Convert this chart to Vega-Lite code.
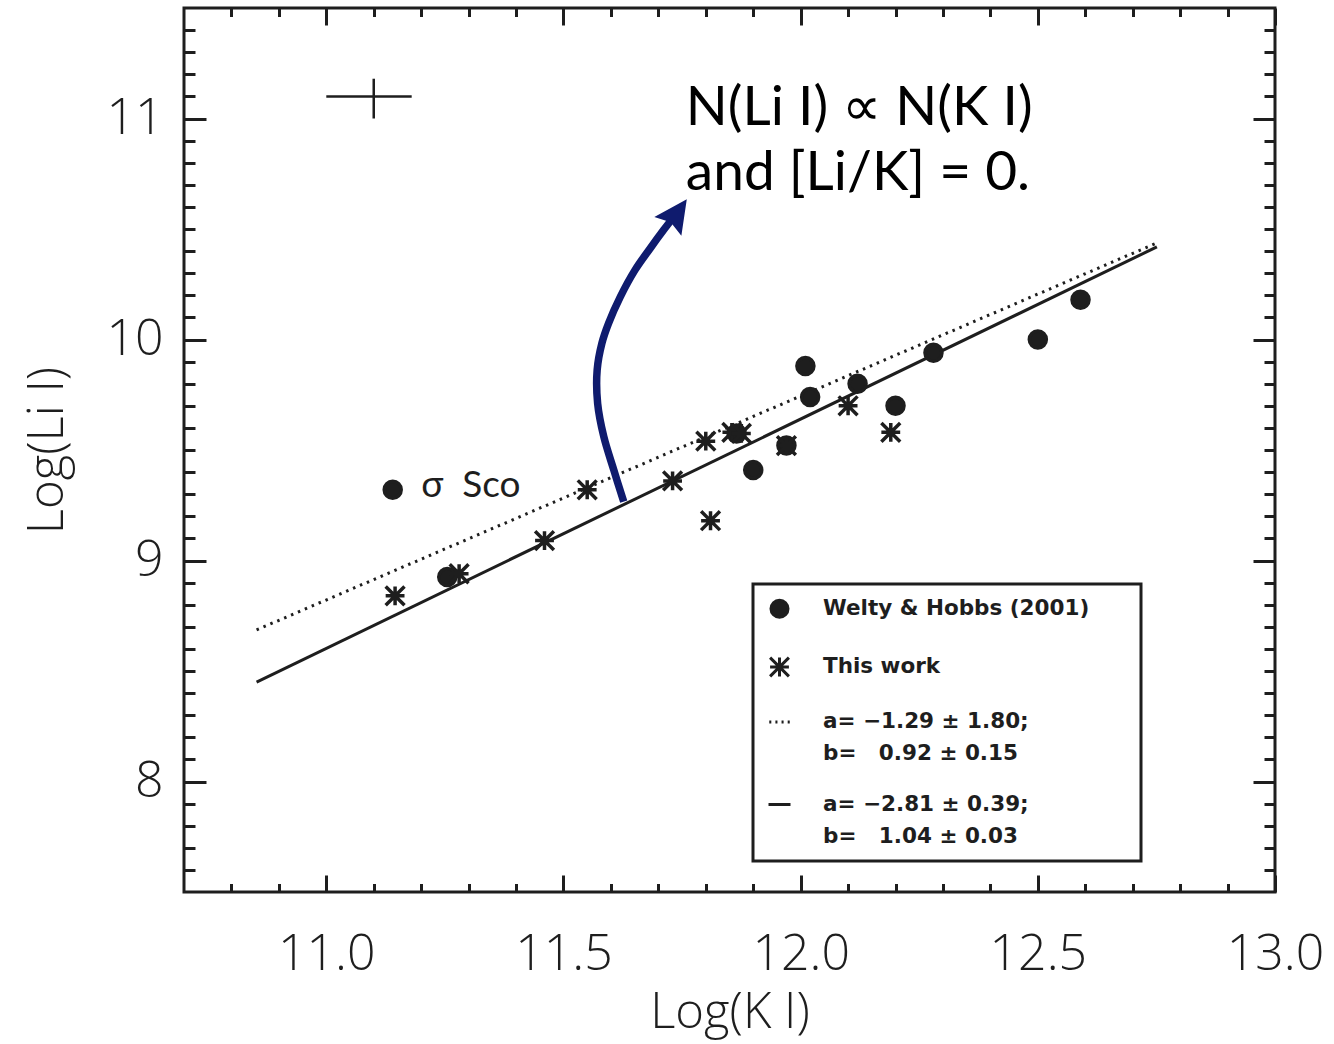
{
  "$schema": "https://vega.github.io/schema/vega-lite/v6.json",
  "width": 1091,
  "height": 884,
  "autosize": {"type": "none"},
  "padding": {"left": 184, "top": 8, "right": 59, "bottom": 152},
  "background": "#ffffff",
  "config": {
    "view": {"stroke": "#1e1e1e", "strokeWidth": 3},
    "axis": {
      "grid": false,
      "domain": false,
      "tickColor": "#1e1e1e",
      "tickWidth": 3,
      "labelFont": "Open Sans",
      "labelFontWeight": 300,
      "labelFontSize": 50,
      "labelColor": "#1e1e1e",
      "titleFont": "Open Sans",
      "titleFontWeight": 300,
      "titleFontSize": 49,
      "titleColor": "#1e1e1e",
      "labelFlush": false,
      "labelOverlap": false
    },
    "legend": {"strokeWidth": 3},
    "style": {"guide-label": {"lineHeight": 32}}
  },
  "datasets": {
    "points": [
      {"series": "Welty & Hobbs (2001)", "x": 11.14, "y": 9.32},
      {"series": "Welty & Hobbs (2001)", "x": 11.255, "y": 8.925},
      {"series": "Welty & Hobbs (2001)", "x": 11.865, "y": 9.575},
      {"series": "Welty & Hobbs (2001)", "x": 11.90, "y": 9.41},
      {"series": "Welty & Hobbs (2001)", "x": 11.97, "y": 9.52},
      {"series": "Welty & Hobbs (2001)", "x": 12.01, "y": 9.88},
      {"series": "Welty & Hobbs (2001)", "x": 12.02, "y": 9.74},
      {"series": "Welty & Hobbs (2001)", "x": 12.12, "y": 9.80},
      {"series": "Welty & Hobbs (2001)", "x": 12.20, "y": 9.70},
      {"series": "Welty & Hobbs (2001)", "x": 12.28, "y": 9.94},
      {"series": "Welty & Hobbs (2001)", "x": 12.50, "y": 10.00},
      {"series": "Welty & Hobbs (2001)", "x": 12.59, "y": 10.18},
      {"series": "This work", "x": 11.145, "y": 8.84},
      {"series": "This work", "x": 11.28, "y": 8.94},
      {"series": "This work", "x": 11.46, "y": 9.09},
      {"series": "This work", "x": 11.55, "y": 9.32},
      {"series": "This work", "x": 11.73, "y": 9.36},
      {"series": "This work", "x": 11.80, "y": 9.54},
      {"series": "This work", "x": 11.81, "y": 9.18},
      {"series": "This work", "x": 11.855, "y": 9.58},
      {"series": "This work", "x": 11.875, "y": 9.575},
      {"series": "This work", "x": 11.97, "y": 9.52},
      {"series": "This work", "x": 12.10, "y": 9.70},
      {"series": "This work", "x": 12.19, "y": 9.58}
    ],
    "solid": [
      {"x": 10.853, "y": 8.45},
      {"x": 12.751, "y": 10.419}
    ],
    "dotted": [
      {"x": 10.853, "y": 8.686},
      {"x": 12.751, "y": 10.437}
    ],
    "cross": [
      {"x": 11.10, "y": 11.10, "xlo": 11.0, "xhi": 11.18, "ylo": 11.0, "yhi": 11.18}
    ],
    "arrow": [
      {"i": 1, "x": 11.627, "y": 9.266},
      {"i": 2, "x": 11.606, "y": 9.410},
      {"i": 3, "x": 11.585, "y": 9.560},
      {"i": 4, "x": 11.572, "y": 9.711},
      {"i": 5, "x": 11.571, "y": 9.862},
      {"i": 6, "x": 11.581, "y": 9.983},
      {"i": 7, "x": 11.595, "y": 10.073},
      {"i": 8, "x": 11.620, "y": 10.194},
      {"i": 9, "x": 11.651, "y": 10.315},
      {"i": 10, "x": 11.683, "y": 10.413},
      {"i": 11, "x": 11.711, "y": 10.495},
      {"i": 12, "x": 11.729, "y": 10.545}
    ],
    "head": [
      {"x": 11.740, "y": 10.573}
    ],
    "note": [
      {"x": 11.758, "y": 10.971, "label": "N(Li I) ∝ N(K I)\nand [Li/K] = 0."}
    ],
    "sco": [
      {"x": 11.200, "y": 9.287, "label": "σ\u00a0\u00a0Sco"}
    ]
  },
  "layer": [
    {
      "data": {"name": "solid"},
      "mark": {"type": "line", "color": "#1e1e1e", "strokeWidth": 3},
      "encoding": {
        "x": {
          "field": "x", "type": "quantitative",
          "scale": {"domain": [10.7, 13.0], "nice": false, "zero": false},
          "axis": {
            "orient": "bottom",
            "values": [11.0, 11.5, 12.0, 12.5, 13.0],
            "format": ".1f",
            "tickSize": -17,
            "labelPadding": 54,
            "title": "Log(K I)",
            "titlePadding": 9
          }
        },
        "y": {
          "field": "y", "type": "quantitative",
          "scale": {"domain": [7.5, 11.5], "nice": false, "zero": false},
          "axis": {
            "orient": "left",
            "values": [8, 9, 10, 11],
            "format": "d",
            "tickSize": -22,
            "labelPadding": 43,
            "title": "Log(Li I)",
            "titlePadding": 33
          }
        }
      }
    },
    {
      "data": {"name": "dotted"},
      "mark": {"type": "line", "color": "#1e1e1e", "strokeWidth": 3, "strokeDash": [2.5, 5]},
      "encoding": {
        "x": {
          "field": "x", "type": "quantitative",
          "scale": {"domain": [10.7, 13.0], "nice": false, "zero": false},
          "axis": {
            "orient": "bottom",
            "values": [10.8, 10.9, 11.1, 11.2, 11.3, 11.4, 11.6, 11.7, 11.8, 11.9, 12.1, 12.2, 12.3, 12.4, 12.6, 12.7, 12.8, 12.9],
            "tickSize": -8.5,
            "labels": false,
            "title": null
          }
        },
        "y": {
          "field": "y", "type": "quantitative",
          "scale": {"domain": [7.5, 11.5], "nice": false, "zero": false},
          "axis": {
            "orient": "left",
            "values": [7.6, 7.7, 7.8, 7.9, 8.1, 8.2, 8.3, 8.4, 8.5, 8.6, 8.7, 8.8, 8.9, 9.1, 9.2, 9.3, 9.4, 9.5, 9.6, 9.7, 9.8, 9.9, 10.1, 10.2, 10.3, 10.4, 10.5, 10.6, 10.7, 10.8, 10.9, 11.1, 11.2, 11.3, 11.4],
            "tickSize": -11,
            "labels": false,
            "title": null
          }
        }
      }
    },
    {
      "data": {"name": "points"},
      "mark": {"type": "point", "filled": false, "fill": "#1e1e1e", "stroke": "#1e1e1e", "strokeWidth": 3.5, "opacity": 1},
      "encoding": {
        "x": {
          "field": "x", "type": "quantitative",
          "scale": {"domain": [10.7, 13.0], "nice": false, "zero": false},
          "axis": {
            "orient": "top",
            "values": [11.0, 11.5, 12.0, 12.5, 13.0],
            "tickSize": -17,
            "labels": false,
            "title": null
          }
        },
        "y": {
          "field": "y", "type": "quantitative",
          "scale": {"domain": [7.5, 11.5], "nice": false, "zero": false},
          "axis": {
            "orient": "right",
            "values": [8, 9, 10, 11],
            "tickSize": -22,
            "labels": false,
            "title": null
          }
        },
        "shape": {
          "field": "series", "type": "nominal",
          "scale": {
            "domain": ["Welty & Hobbs (2001)", "This work", "a= −1.29 ± 1.80;|b=\u00a0\u00a0\u00a00.92 ± 0.15", "a= −2.81 ± 0.39;|b=\u00a0\u00a0\u00a01.04 ± 0.03"],
            "range": ["circle", "M-1,0L1,0M0,-1L0,1M-1,-1L1,1M-1,1L1,-1", "M-1,0L-0.8,0M-0.4,0L-0.2,0M0.2,0L0.4,0M0.8,0L1,0", "M-1,0L1,0"]
          },
          "legend": {
            "title": null,
            "orient": "none",
            "legendX": 569,
            "legendY": 576,
            "padding": 14,
            "strokeColor": "#1e1e1e",
            "fillColor": "#ffffff",
            "rowPadding": 27,
            "labelOffset": 31,
            "labelLimit": 600,
            "labelFont": "DejaVu Sans",
            "labelFontWeight": "bold",
            "labelFontSize": 21.5,
            "labelColor": "#1e1e1e",
            "symbolStrokeWidth": 3,
            "symbolOpacity": 1,
            "labelExpr": "datum.label == 'Welty & Hobbs (2001)' ? 'Welty & Hobbs (2001)\u00a0\u00a0\u00a0\u00a0\u00a0\u200b' : split(datum.label, '|')"
          }
        },
        "size": {
          "field": "series", "type": "nominal",
          "scale": {
            "domain": ["Welty & Hobbs (2001)", "This work", "a= −1.29 ± 1.80;|b=\u00a0\u00a0\u00a00.92 ± 0.15", "a= −2.81 ± 0.39;|b=\u00a0\u00a0\u00a01.04 ± 0.03"],
            "range": [290, 484, 676, 676]
          },
          "legend": {
            "title": null,
            "orient": "none",
            "legendX": 569,
            "legendY": 576,
            "padding": 14,
            "strokeColor": "#1e1e1e",
            "fillColor": "#ffffff",
            "rowPadding": 27,
            "labelOffset": 31,
            "labelLimit": 600,
            "labelFont": "DejaVu Sans",
            "labelFontWeight": "bold",
            "labelFontSize": 21.5,
            "labelColor": "#1e1e1e",
            "symbolStrokeWidth": 3,
            "symbolOpacity": 1,
            "labelExpr": "datum.label == 'Welty & Hobbs (2001)' ? 'Welty & Hobbs (2001)\u00a0\u00a0\u00a0\u00a0\u00a0\u200b' : split(datum.label, '|')"
          }
        }
      }
    },
    {
      "data": {"name": "cross"},
      "mark": {"type": "rule", "color": "#1e1e1e", "strokeWidth": 2.5},
      "encoding": {
        "x": {
          "field": "xlo", "type": "quantitative",
          "scale": {"domain": [10.7, 13.0], "nice": false, "zero": false},
          "axis": {
            "orient": "top",
            "values": [10.8, 10.9, 11.1, 11.2, 11.3, 11.4, 11.6, 11.7, 11.8, 11.9, 12.1, 12.2, 12.3, 12.4, 12.6, 12.7, 12.8, 12.9],
            "tickSize": -8.5,
            "labels": false,
            "title": null
          }
        },
        "x2": {"field": "xhi"},
        "y": {
          "field": "y", "type": "quantitative",
          "scale": {"domain": [7.5, 11.5], "nice": false, "zero": false},
          "axis": {
            "orient": "right",
            "values": [7.6, 7.7, 7.8, 7.9, 8.1, 8.2, 8.3, 8.4, 8.5, 8.6, 8.7, 8.8, 8.9, 9.1, 9.2, 9.3, 9.4, 9.5, 9.6, 9.7, 9.8, 9.9, 10.1, 10.2, 10.3, 10.4, 10.5, 10.6, 10.7, 10.8, 10.9, 11.1, 11.2, 11.3, 11.4],
            "tickSize": -11,
            "labels": false,
            "title": null
          }
        }
      }
    },
    {
      "data": {"name": "cross"},
      "mark": {"type": "rule", "color": "#1e1e1e", "strokeWidth": 2.5},
      "encoding": {
        "x": {"field": "x", "type": "quantitative", "scale": {"domain": [10.7, 13.0], "nice": false, "zero": false}, "axis": null},
        "y": {"field": "ylo", "type": "quantitative", "scale": {"domain": [7.5, 11.5], "nice": false, "zero": false}, "axis": null},
        "y2": {"field": "yhi"}
      }
    },
    {
      "data": {"name": "arrow"},
      "mark": {"type": "line", "color": "#0f1b6e", "strokeWidth": 7.5, "interpolate": "catmull-rom"},
      "encoding": {
        "x": {"field": "x", "type": "quantitative", "scale": {"domain": [10.7, 13.0], "nice": false, "zero": false}, "axis": null},
        "y": {"field": "y", "type": "quantitative", "scale": {"domain": [7.5, 11.5], "nice": false, "zero": false}, "axis": null},
        "order": {"field": "i", "type": "quantitative"}
      }
    },
    {
      "data": {"name": "head"},
      "mark": {"type": "point", "shape": "M0,-1L1,1L0,0.7L-1,1Z", "size": 1089, "angle": 35, "filled": true, "color": "#0f1b6e", "opacity": 1},
      "encoding": {
        "x": {"field": "x", "type": "quantitative", "scale": {"domain": [10.7, 13.0], "nice": false, "zero": false}, "axis": null},
        "y": {"field": "y", "type": "quantitative", "scale": {"domain": [7.5, 11.5], "nice": false, "zero": false}, "axis": null}
      }
    },
    {
      "data": {"name": "note"},
      "mark": {"type": "text", "align": "left", "baseline": "alphabetic", "font": "Lato", "fontSize": 55, "color": "#000000", "lineBreak": "\n", "lineHeight": 65},
      "encoding": {
        "x": {"field": "x", "type": "quantitative", "scale": {"domain": [10.7, 13.0], "nice": false, "zero": false}, "axis": null},
        "y": {"field": "y", "type": "quantitative", "scale": {"domain": [7.5, 11.5], "nice": false, "zero": false}, "axis": null},
        "text": {"field": "label"}
      }
    },
    {
      "data": {"name": "sco"},
      "mark": {"type": "text", "align": "left", "baseline": "alphabetic", "font": "Lato", "fontSize": 37, "color": "#1e1e1e"},
      "encoding": {
        "x": {"field": "x", "type": "quantitative", "scale": {"domain": [10.7, 13.0], "nice": false, "zero": false}, "axis": null},
        "y": {"field": "y", "type": "quantitative", "scale": {"domain": [7.5, 11.5], "nice": false, "zero": false}, "axis": null},
        "text": {"field": "label"}
      }
    }
  ],
  "resolve": {"axis": {"x": "independent", "y": "independent"}}
}
